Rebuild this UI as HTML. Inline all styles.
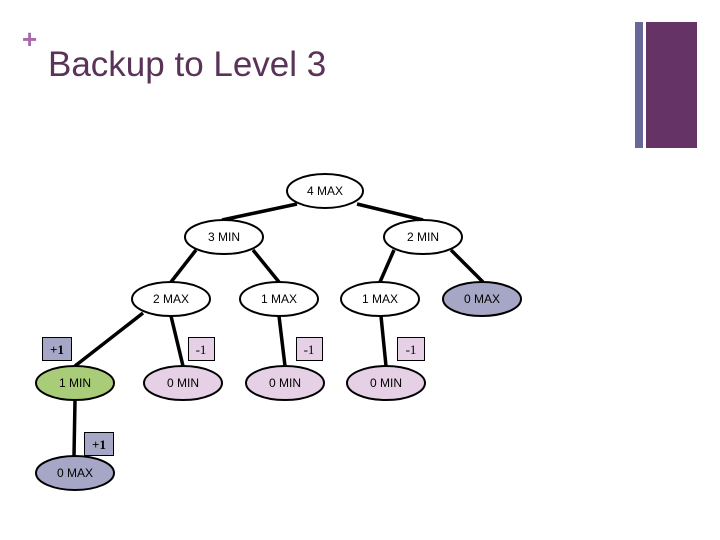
<!DOCTYPE html>
<html><head><meta charset="utf-8"><style>
html,body{margin:0;padding:0;background:#fff;}
body{width:720px;height:540px;position:relative;overflow:hidden;font-family:"Liberation Sans",sans-serif;}
</style></head><body>
<svg width="720" height="540" viewBox="0 0 720 540" xmlns="http://www.w3.org/2000/svg" style="position:absolute;left:0;top:0">
<rect x="635" y="22" width="8" height="126" fill="#676798"/>
<rect x="646" y="22" width="51" height="126" fill="#663366"/>
<text x="22" y="48" font-family="Liberation Sans" font-size="26" font-weight="bold" fill="#a86aa8">+</text>
<text x="48" y="76" font-family="Liberation Sans" font-size="35" fill="#5a3358">Backup to Level 3</text>
<g stroke="#000" stroke-width="3.5" fill="none">
<line x1="297" y1="204" x2="222" y2="220"/>
<line x1="357" y1="204" x2="423" y2="220"/>
<line x1="196" y1="250" x2="171" y2="282"/>
<line x1="253" y1="250" x2="279" y2="282"/>
<line x1="394" y1="250" x2="380" y2="282"/>
<line x1="451" y1="250" x2="483" y2="282"/>
<line x1="143" y1="313" x2="75" y2="366"/>
<line x1="171" y1="316" x2="183" y2="366"/>
<line x1="279" y1="316" x2="285" y2="366"/>
<line x1="381" y1="316" x2="386" y2="366"/>
<line x1="75" y1="400" x2="74" y2="456"/>
</g>
<g stroke="#000" stroke-width="2" font-family="Liberation Sans" font-size="12" text-anchor="middle">
<ellipse cx="325" cy="191" rx="38" ry="17" fill="#fff"/>
<ellipse cx="224" cy="237" rx="39" ry="17" fill="#fff"/>
<ellipse cx="423" cy="237" rx="39" ry="17" fill="#fff"/>
<ellipse cx="171" cy="299" rx="39" ry="17" fill="#fff"/>
<ellipse cx="279" cy="299" rx="39" ry="17" fill="#fff"/>
<ellipse cx="380" cy="299" rx="39" ry="17" fill="#fff"/>
<ellipse cx="482" cy="299" rx="39" ry="17" fill="#a6a6c6"/>
<ellipse cx="75" cy="383" rx="39" ry="17" fill="#a8cc78"/>
<ellipse cx="183" cy="383" rx="39" ry="17" fill="#e6d0e6"/>
<ellipse cx="285" cy="383" rx="39" ry="17" fill="#e6d0e6"/>
<ellipse cx="386" cy="383" rx="39" ry="17" fill="#e6d0e6"/>
<ellipse cx="75" cy="473" rx="39" ry="17" fill="#a6a6c6"/>
</g>
<g font-family="Liberation Sans" font-size="12" text-anchor="middle" fill="#000">
<text x="325" y="195">4 MAX</text>
<text x="224" y="241">3 MIN</text>
<text x="423" y="241">2 MIN</text>
<text x="171" y="303">2 MAX</text>
<text x="279" y="303">1 MAX</text>
<text x="380" y="303">1 MAX</text>
<text x="482" y="303">0 MAX</text>
<text x="75" y="387">1 MIN</text>
<text x="183" y="387">0 MIN</text>
<text x="285" y="387">0 MIN</text>
<text x="386" y="387">0 MIN</text>
<text x="75" y="477">0 MAX</text>
</g>
<g stroke="#000" stroke-width="1">
<rect x="42.5" y="337.5" width="29" height="23" fill="#a6a6c6"/>
<rect x="188.5" y="337.5" width="26" height="23" fill="#e6d0e6"/>
<rect x="296.5" y="337.5" width="26" height="23" fill="#e6d0e6"/>
<rect x="397.5" y="337.5" width="27" height="23" fill="#e6d0e6"/>
<rect x="84.5" y="432.5" width="29" height="23" fill="#a6a6c6"/>
</g>
<g font-family="Liberation Serif" font-size="13" text-anchor="middle" fill="#000">
<text x="57" y="354" font-weight="bold">+1</text>
<text x="201" y="354">-1</text>
<text x="309" y="354">-1</text>
<text x="411" y="354">-1</text>
<text x="99" y="449" font-weight="bold">+1</text>
</g>
</svg>
</body></html>
